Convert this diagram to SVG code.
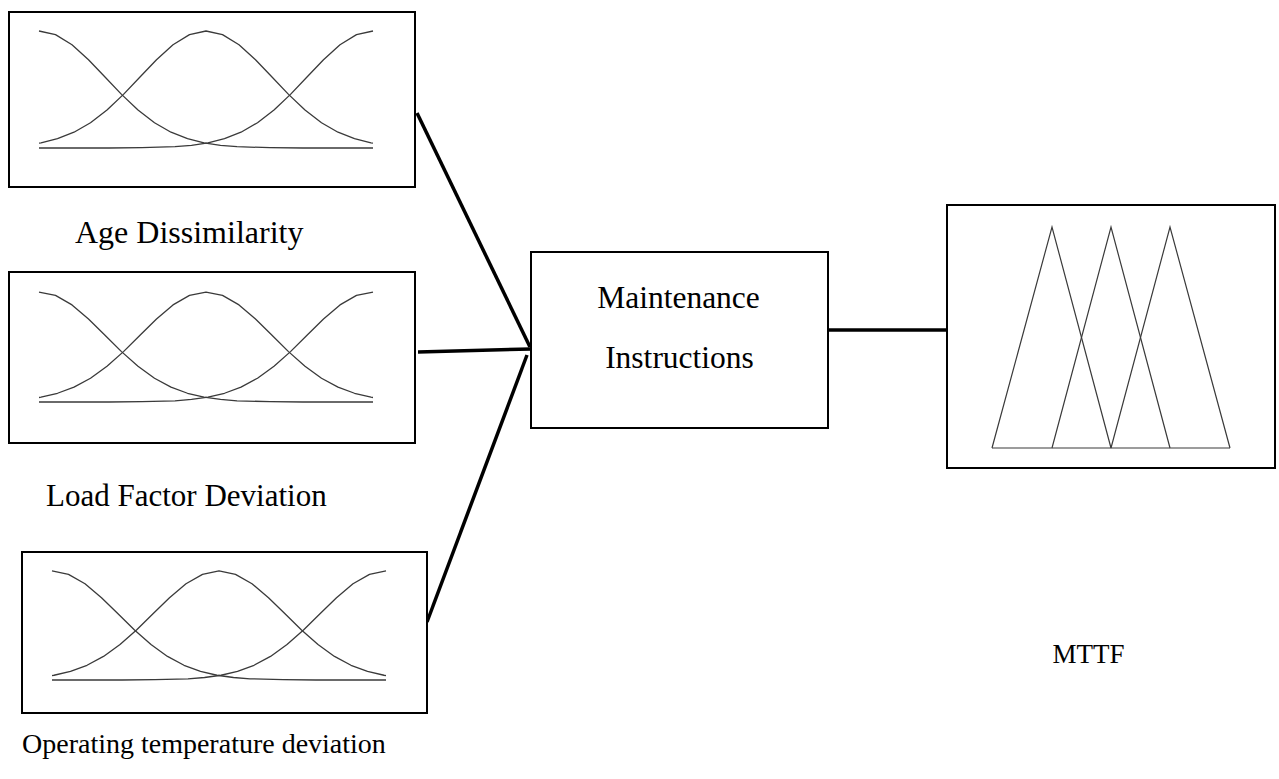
<svg xmlns="http://www.w3.org/2000/svg" xmlns:xlink="http://www.w3.org/1999/xlink" width="1279" height="779" viewBox="0 0 1279 779">
  <style>
    .box { fill: #ffffff; stroke: #000000; stroke-width: 2; }
    .mf { fill: none; stroke: #3a3a3a; stroke-width: 1.3; stroke-linejoin: round; vector-effect: non-scaling-stroke; }
    .tri { fill: none; stroke: #3a3a3a; stroke-width: 1.2; stroke-linejoin: miter; }
    .link { fill: none; stroke: #000000; stroke-width: 3.5; stroke-linecap: butt; }
    .label { font-family: "Liberation Serif", "Times New Roman", serif; font-size: 30px; fill: #000000; }
  </style>
  <defs>
    <!-- three Gaussian membership functions (low / medium / high), baseline at y=0 -->
    <g id="gauss3">
      <polyline class="mf" points="0,-117 16.5,-113.4 33,-103.3 49.5,-88.3 66,-71 82.5,-53.6 99,-38 115.5,-25.3 132,-15.8 148.5,-9.3 165,-5.1 181.5,-2.7 198,-1.3 231,-0.3 264,0 334,0"/>
      <polyline class="mf" points="0,-4.8 2,-5.1 18.5,-9.3 35,-15.8 51.5,-25.3 68,-38 84.5,-53.6 101,-71 117.5,-88.3 134,-103.3 150.5,-113.4 167,-117 183.5,-113.4 200,-103.3 216.5,-88.3 233,-71 249.5,-53.6 266,-38 282.5,-25.3 299,-15.8 315.5,-9.3 332,-5.1 334,-4.8"/>
      <polyline class="mf" points="334,-117 317.5,-113.4 301,-103.3 284.5,-88.3 268,-71 251.5,-53.6 235,-38 218.5,-25.3 202,-15.8 185.5,-9.3 169,-5.1 152.5,-2.7 136,-1.3 103,-0.3 70,0 0,0"/>
    </g>
  </defs>

  <!-- connectors -->
  <g id="connectors">
    <line class="link" x1="417" y1="113" x2="530" y2="347"/>
    <line class="link" x1="418" y1="352" x2="531" y2="349"/>
    <line class="link" x1="527" y1="355" x2="427" y2="622"/>
    <line class="link" x1="828" y1="330" x2="947" y2="330"/>
  </g>

  <!-- input: age dissimilarity -->
  <g id="age-dissimilarity">
    <rect class="box" x="9" y="12" width="406" height="175"/>
    <use xlink:href="#gauss3" transform="translate(39,148)"/>
    <text class="label" x="75" y="243" style="font-size:32px">Age Dissimilarity</text>
  </g>

  <!-- input: load factor deviation -->
  <g id="load-factor-deviation">
    <rect class="box" x="9" y="272" width="406" height="171"/>
    <use xlink:href="#gauss3" transform="translate(39,402) scale(1,0.94)"/>
    <text class="label" x="46" y="506" style="font-size:31px">Load Factor Deviation</text>
  </g>

  <!-- input: operating temperature deviation -->
  <g id="operating-temperature-deviation">
    <rect class="box" x="22" y="552" width="405" height="161"/>
    <use xlink:href="#gauss3" transform="translate(52,680) scale(1,0.932)"/>
    <text class="label" x="22" y="753" style="font-size:28px">Operating temperature deviation</text>
  </g>

  <!-- rule block -->
  <g id="maintenance-instructions">
    <rect class="box" x="531" y="252" width="297" height="176"/>
    <text class="label" x="678.5" y="308" text-anchor="middle" style="font-size:31.5px">Maintenance</text>
    <text class="label" x="679.5" y="368" text-anchor="middle" style="font-size:31.5px">Instructions</text>
  </g>

  <!-- output: MTTF with triangular membership functions -->
  <g id="mttf">
    <rect class="box" x="947" y="205" width="328" height="263"/>
    <polyline class="tri" points="992,448 1052,227 1111,448"/>
    <polyline class="tri" points="1052,448 1111,227 1170,448"/>
    <polyline class="tri" points="1111,448 1170,227 1230,448"/>
    <line class="tri" x1="992" y1="448" x2="1230" y2="448"/>
    <text class="label" x="1088.5" y="663" text-anchor="middle" style="font-size:27px">MTTF</text>
  </g>
</svg>
